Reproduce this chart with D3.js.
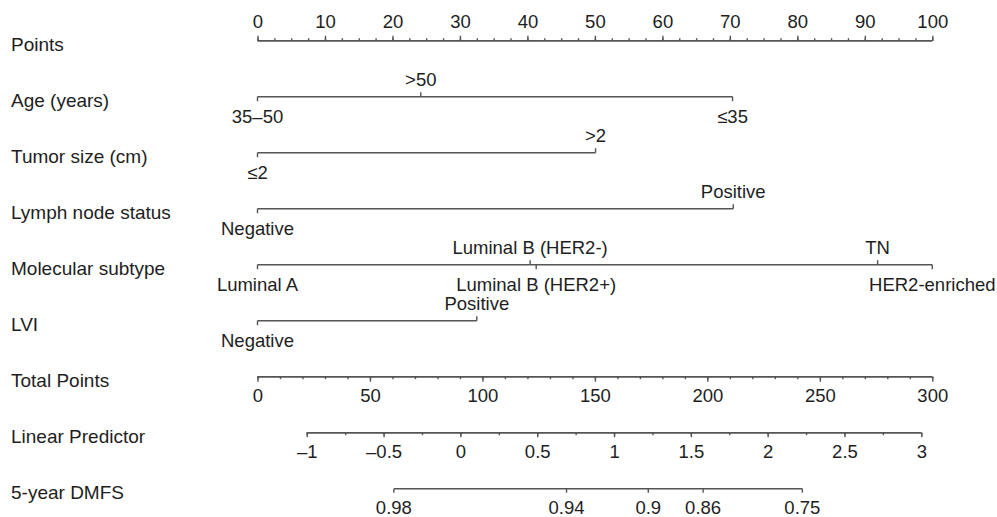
<!DOCTYPE html>
<html>
<head>
<meta charset="utf-8">
<script src="https://cdn.jsdelivr.net/npm/d3@7"></script>
<style>
  body { margin: 0; background: #fff; }
  text { font-family: "Liberation Sans", Arial, sans-serif; fill: #1e1e1e; }
  .axis path, .axis line, .var line { stroke: #555; stroke-width: 1.4; fill: none; }
</style>
</head>
<body>
<div id="chart"></div>
<script>
// row names, top to bottom
const rowNames = ['Points', 'Age (years)', 'Tumor size (cm)', 'Lymph node status',
  'Molecular subtype', 'LVI', 'Total Points', 'Linear Predictor', '5-year DMFS'];

// points for each level of each predictor
const ageLevels = ['35–50', '>50', '≤35'];
const ageScores = [0, 24.2, 70.4];
const tumorLevels = ['≤2', '>2'];
const tumorScores = [0, 50.1];
const nodeLevels = ['Negative', 'Positive'];
const nodeScores = [0, 70.5];
const subtypeLevels = ['Luminal A', 'Luminal B (HER2-)', 'Luminal B (HER2+)', 'TN', 'HER2-enriched'];
const subtypeScores = [0, 40.4, 41.3, 91.9, 100];
const lviLevels = ['Negative', 'Positive'];
const lviScores = [0, 32.5];

// axis ticks
const pointTicks = [0, 10, 20, 30, 40, 50, 60, 70, 80, 90, 100];
const pointMinor = d3.range(0, 100.01, 2.5);
const totalTicks = [0, 50, 100, 150, 200, 250, 300];
const totalMinor = d3.range(0, 300.01, 10);
const lpTicks = [-1, -0.5, 0, 0.5, 1, 1.5, 2, 2.5, 3];
const lpMinor = d3.range(-1, 3.01, 0.25);
// total points where the linear predictor is -1 and 3
const lpTotalPoints = [21.9, 295.1];
// 5-year DMFS labels and their linear predictor values
const dmfsLabels = ['0.98', '0.94', '0.9', '0.86', '0.75'];
const dmfsLp = [-0.433, 0.691, 1.223, 1.58, 2.226];

const width = 997, height = 517;
const rowTop = 40.7, rowGap = 56;
const rowY = i => rowTop + i * rowGap;
const tickFont = '18.5px';

const svg = d3.select('#chart').append('svg')
  .attr('width', width)
  .attr('height', height);

const x = d3.scaleLinear().domain([0, 100]).range([257.5, 932.3]);
const xTotal = d3.scaleLinear().domain([0, 300]).range([257.5, 932.3]);
const xLp = d3.scaleLinear().domain([-1, 3]).range(lpTotalPoints.map(xTotal));

const dashNum = d => d < 0 ? '–' + Math.abs(d) : String(d);

// row labels
svg.append('g').selectAll('text')
  .data(rowNames)
  .enter().append('text')
  .attr('x', 11)
  .attr('y', (d, i) => rowY(i) + 3.5)
  .attr('dy', '0.35em')
  .style('font-size', '19px')
  .text(d => d);

function drawAxis(scale, y, major, minor, fmt, top, majorLen, minorLen) {
  const mk = top ? d3.axisTop : d3.axisBottom;
  const g = svg.append('g').attr('class', 'axis').attr('transform', 'translate(0,' + y + ')');
  g.append('g').call(mk(scale).tickValues(minor).tickSize(minorLen).tickSizeOuter(0).tickFormat(''));
  const gm = g.append('g').call(mk(scale).tickValues(major).tickSize(majorLen).tickSizeOuter(0).tickFormat(fmt));
  gm.selectAll('text')
    .attr('y', top ? -19 : 19)
    .attr('dy', '0.35em')
    .style('font-size', tickFont)
    .attr('fill', null);
  g.selectAll('.domain').attr('d', 'M' + scale.range()[0] + ',0H' + scale.range()[1]);
  return g;
}

drawAxis(x, rowY(0), pointTicks, pointMinor, d => d, true, 5, 2.5);
drawAxis(xTotal, rowY(6), totalTicks, totalMinor, d => d, false, 5, 2.5);
drawAxis(xLp, rowY(7), lpTicks, lpMinor, dashNum, false, 4.5, 2.5);

// DMFS axis
const dmfs = dmfsLabels.map((d, i) => ({ label: d, lp: dmfsLp[i] }));
const gd = svg.append('g').attr('class', 'var').attr('transform', 'translate(0,' + rowY(8) + ')');
gd.append('line')
  .attr('x1', xLp(d3.min(dmfsLp))).attr('x2', xLp(d3.max(dmfsLp)));
gd.selectAll('.tk').data(dmfs).enter().append('line')
  .attr('x1', d => xLp(d.lp)).attr('x2', d => xLp(d.lp))
  .attr('y1', 0).attr('y2', 4);
gd.selectAll('text').data(dmfs).enter().append('text')
  .attr('x', d => xLp(d.lp))
  .attr('y', 18.5)
  .attr('dy', '0.35em')
  .attr('text-anchor', 'middle')
  .style('font-size', tickFont)
  .text(d => d.label);

// predictor rows, labels alternate below / above
function drawVar(levels, scores, row) {
  const data = levels.map((d, i) => ({ label: d, pts: scores[i] }))
    .sort((a, b) => a.pts - b.pts);
  data.forEach((d, i) => { d.up = i % 2 === 1; });
  const g = svg.append('g').attr('class', 'var').attr('transform', 'translate(0,' + rowY(row) + ')');
  g.append('line')
    .attr('x1', x(d3.min(scores))).attr('x2', x(d3.max(scores)));
  g.selectAll('.tk').data(data).enter().append('line')
    .attr('x1', d => x(d.pts)).attr('x2', d => x(d.pts))
    .attr('y1', 0).attr('y2', d => d.up ? -4.5 : 4.5);
  g.selectAll('text').data(data).enter().append('text')
    .attr('x', d => x(d.pts))
    .attr('y', d => d.up ? -17.5 : 19.5)
    .attr('dy', '0.35em')
    .attr('text-anchor', 'middle')
    .style('font-size', tickFont)
    .text(d => d.label);
}

drawVar(ageLevels, ageScores, 1);
drawVar(tumorLevels, tumorScores, 2);
drawVar(nodeLevels, nodeScores, 3);
drawVar(subtypeLevels, subtypeScores, 4);
drawVar(lviLevels, lviScores, 5);
</script>
</body>
</html>
